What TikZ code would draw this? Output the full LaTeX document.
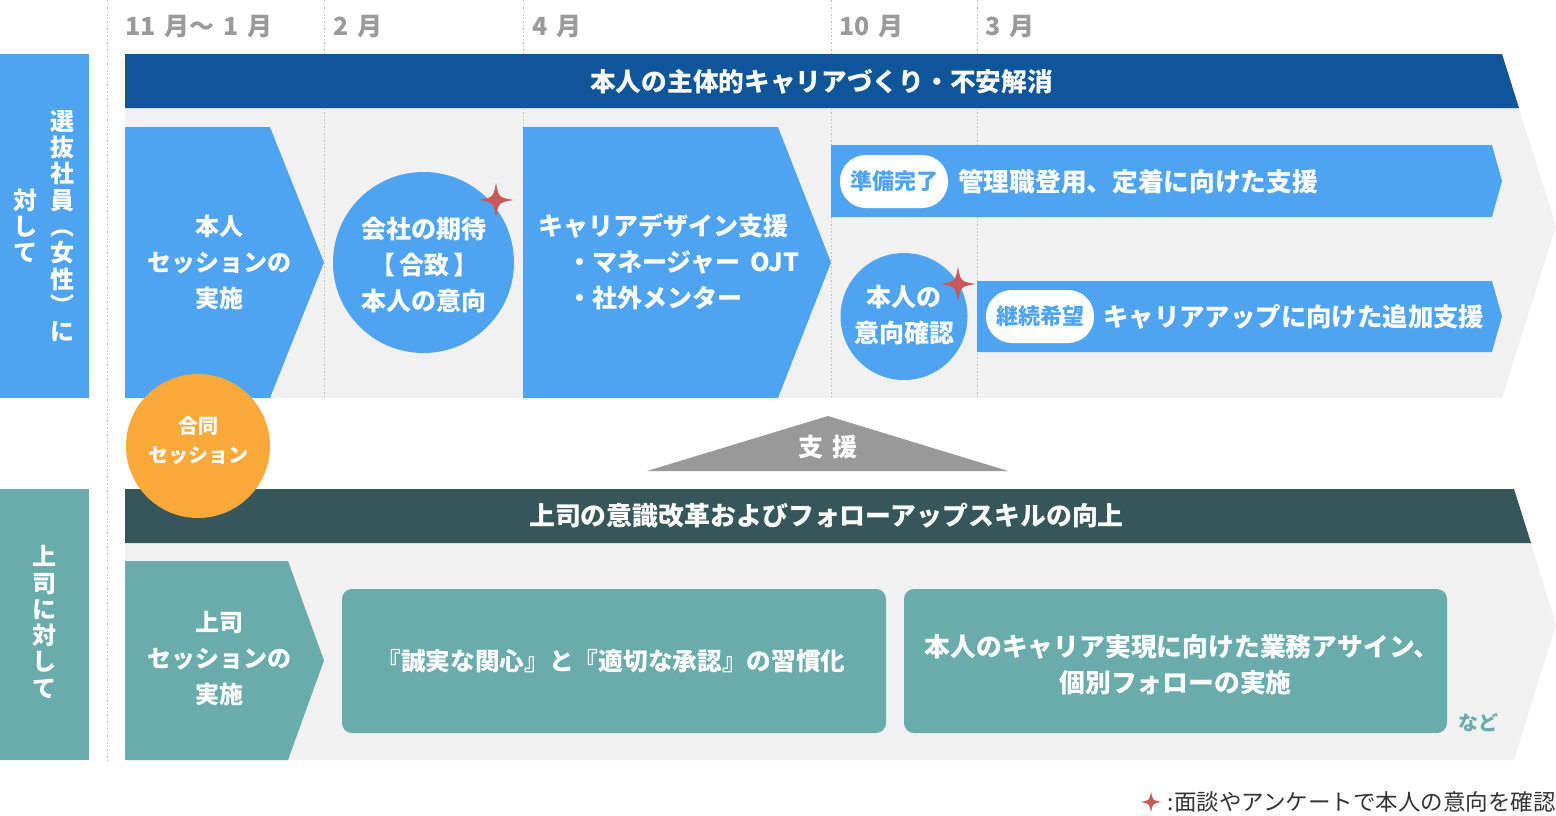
\documentclass[tikz,border=0pt]{standalone}
\usepackage{fontspec}
\setmainfont{Noto Sans CJK JP}
\definecolor{lblue}{HTML}{4FA4F1}
\definecolor{dblue}{HTML}{0E5699}
\definecolor{dteal}{HTML}{365759}
\definecolor{tealbox}{HTML}{6AABAC}
\definecolor{orng}{HTML}{F8A93A}
\definecolor{bggray}{HTML}{F1F1F1}
\definecolor{trigray}{HTML}{999999}
\definecolor{starred}{HTML}{C9585B}
\definecolor{monthgray}{HTML}{9A9A9A}
\definecolor{dotgray}{HTML}{BDBDBD}
\definecolor{legendgray}{HTML}{333333}
\tikzset{
  sparkle/.pic={\fill[starred] (0,-1) .. controls (0.15,-0.15) .. (1,0) .. controls (0.15,0.15) .. (0,1) .. controls (-0.15,0.15) .. (-1,0) .. controls (-0.15,-0.15) .. cycle;},
  txt/.style={inner sep=0pt, text=white, align=center, font=\bfseries\fontsize{25}{36}\selectfont},
  bigtxt/.style={txt, font=\bfseries\fontsize{25.7}{36}\selectfont},
  boxtxt/.style={txt, font=\bfseries\fontsize{24}{36}\selectfont},
  smalltxt/.style={inner sep=0pt, text=white, align=center, font=\bfseries\fontsize{20}{29}\selectfont},
  vtxt/.style={inner sep=0pt, text=white, align=center, font=\bfseries\fontsize{24}{26.3}\selectfont},
  month/.style={inner sep=0pt, anchor=west, text=monthgray, font=\bfseries\fontsize{25}{28}\selectfont},
  pill/.style={fill=white, rounded corners=26pt, minimum width=108pt, minimum height=53pt, inner sep=0pt, text=lblue, font=\bfseries\fontsize{22}{26}\selectfont},
  dotline/.style={dotgray, line width=1pt, dash pattern=on 1.5pt off 2pt},
}
\newcommand\msp{\hspace{9pt}}
\begin{document}
\begin{tikzpicture}[x=1pt,y=-1pt]
\useasboundingbox (0,0) rectangle (1556,815);
\fill[white] (0,0) rectangle (1556,815);

% gray background arrows
\fill[bggray] (125,54) -- (1502,54) -- (1556,226) -- (1502,398) -- (125,398) -- cycle;
\fill[bggray] (125,489) -- (1514,489) -- (1556,624.5) -- (1514,760) -- (125,760) -- cycle;

% dotted month lines
\draw[dotline] (107,0) -- (107,760);
\draw[dotline] (324,0) -- (324,398);
\draw[dotline] (523,0) -- (523,398);
\draw[dotline] (831,0) -- (831,398);
\draw[dotline] (977,0) -- (977,398);

% month labels
\node[month] (m1) at (125,27) {11\msp 月〜\msp 1\msp 月};
\node[month] (m2) at (333,27) {2\msp 月};
\node[month] (m3) at (532,27) {4\msp 月};
\node[month] (m4) at (839,27) {10\msp 月};
\node[month] (m5) at (985,27) {3\msp 月};

% left labels
\fill[lblue] (0,54) rectangle (88.5,398);
\node[vtxt] (v1) at (62,226) {選\\抜\\社\\員\\︵\\女\\性\\︶\\に};
\node[vtxt] (v2) at (25,226) {対\\し\\て};
\fill[tealbox] (0,489) rectangle (88.5,760);
\node[vtxt] (v3) at (44,622) {上\\司\\に\\対\\し\\て};

% top banner
\fill[dblue] (125,54) -- (1502,54) -- (1519,108) -- (125,108) -- cycle;
\node[bigtxt] (t1) at (821.5,82) {本人の主体的キャリアづくり・不安解消};

% box 1
\fill[lblue] (125,127) -- (270,127) -- (324,262.5) -- (270,398) -- (125,398) -- cycle;
\node[boxtxt] (b1) at (219,262) {本人\\セッションの\\実施};

% circle 1
\fill[lblue] (423.5,262.5) circle (90.5);
\node[txt] (c1) at (424,265) {会社の期待\\【\hspace{4pt}合致\hspace{4pt}】\\本人の意向};
\pic[scale=17.5] at (496,200) {sparkle};

% box 3
\fill[lblue] (523,127) -- (778,127) -- (831,262.5) -- (778,398) -- (523,398) -- cycle;
\node[txt, align=left, anchor=west] (b3) at (538,262) {キャリアデザイン支援\\\hspace*{29pt}・マネージャー\hspace{10pt}OJT\\\hspace*{29pt}・社外メンター};

% top right bar
\fill[lblue] (831,145) -- (1492,145) -- (1502,181) -- (1492,217) -- (831,217) -- cycle;
\node[pill] (p1) at (894,181.5) {準備完了};
\node[bigtxt, anchor=west] (tb) at (958,182) {管理職登用、定着に向けた支援};

% bottom right bar
\fill[lblue] (977,281) -- (1492,281) -- (1502,316.5) -- (1492,352) -- (977,352) -- cycle;
\node[pill] (p2) at (1040,316.5) {継続希望};
\node[txt, anchor=west, font=\bfseries\fontsize{25.4}{36}\selectfont] (bb) at (1103,317) {キャリアアップに向けた追加支援};

% circle 2
\fill[lblue] (904,316.5) circle (63.5);
\node[txt] (c2) at (904,315) {本人の\\意向確認};
\pic[scale=17.5] at (958,284) {sparkle};

% support triangle
\fill[trigray] (828,416) -- (1008,471) -- (647,471) -- cycle;
\node[txt] (sup) at (828,447) {支\hspace{9pt}援};

% bottom banner
\fill[dteal] (125,489) -- (1514,489) -- (1531,543) -- (125,543) -- cycle;
\node[txt, font=\bfseries\fontsize{25.9}{36}\selectfont] (t2) at (826.5,516) {上司の意識改革およびフォローアップスキルの向上};

% orange joint session
\fill[orng] (198,446) circle (72);
\node[smalltxt] (js) at (198,440.5) {合同\\セッション};

% boss session
\fill[tealbox] (125,561) -- (288,561) -- (324,660.5) -- (288,760) -- (125,760) -- cycle;
\node[boxtxt] (b4) at (219,659) {上司\\セッションの\\実施};

% rounded boxes
\fill[tealbox, rounded corners=10pt] (342,589) rectangle (886,733);
\node[txt, font=\bfseries\fontsize{24.7}{36}\selectfont] (r1) at (611,661) {『誠実な関心』と『適切な承認』の習慣化};
\fill[tealbox, rounded corners=10pt] (904,589) rectangle (1447,733);
\node[txt, font=\bfseries\fontsize{25.8}{36}\selectfont] (r2) at (1175.5,665) {本人のキャリア実現に向けた業務アサイン、\kern-13pt\\個別フォローの実施};
\node[inner sep=0pt, text=tealbox, font=\bfseries\fontsize{20}{24}\selectfont] (nado) at (1478,723) {など};

% legend
\pic[scale=10.5] at (1151,802) {sparkle};
\node[anchor=east, inner sep=0pt, text=legendgray, font=\fontsize{22.5}{26}\selectfont] (leg) at (1556,802) {:面談やアンケートで本人の意向を確認};
\end{tikzpicture}
\end{document}
